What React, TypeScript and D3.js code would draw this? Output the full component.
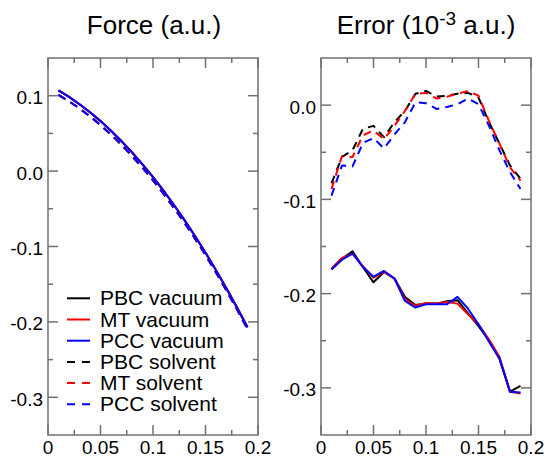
import React from "react";
import * as d3 from "d3";

const xValues = [0.01, 0.02, 0.03, 0.04, 0.05, 0.06, 0.07, 0.08, 0.09, 0.1, 0.11, 0.12, 0.13, 0.14, 0.15, 0.16, 0.17, 0.18, 0.19];

// Force (a.u.)
const forceVacuum = [0.107, 0.0984, 0.0887, 0.078, 0.0663, 0.0535, 0.0397, 0.0248, 0.0089, -0.008, -0.026, -0.045, -0.065, -0.0861, -0.1082, -0.1314, -0.1556, -0.1808, -0.2071];
const forceSolvent = [0.101, 0.0926, 0.0831, 0.0726, 0.0611, 0.0485, 0.0349, 0.0202, 0.0045, -0.0122, -0.03, -0.0488, -0.0686, -0.0895, -0.1114, -0.1344, -0.1584, -0.1834, -0.2095];

// Error (1e-3 a.u.)
const errPBCvac = [-0.1735, -0.163, -0.155, -0.172, -0.188, -0.177, -0.184, -0.2035, -0.212, -0.2106, -0.2106, -0.208, -0.207, -0.221, -0.2346, -0.2495, -0.269, -0.304, -0.298];
const errMTvac = [-0.1735, -0.162, -0.1576, -0.171, -0.183, -0.177, -0.184, -0.206, -0.213, -0.21, -0.2106, -0.209, -0.2106, -0.222, -0.2325, -0.2488, -0.267, -0.304, -0.306];
const errPCCvac = [-0.1745, -0.164, -0.1576, -0.172, -0.182, -0.176, -0.184, -0.2078, -0.2148, -0.2113, -0.2113, -0.2113, -0.2035, -0.216, -0.2325, -0.251, -0.269, -0.304, -0.305];
const errPBCsol = [-0.083, -0.055, -0.048, -0.025, -0.022, -0.034, -0.018, -0.006, 0.012, 0.015, 0.009, 0.01, 0.012, 0.013, 0.008, -0.018, -0.041, -0.064, -0.078];
const errMTsol = [-0.089, -0.054, -0.055, -0.032, -0.027, -0.036, -0.022, -0.006, 0.012, 0.013, 0.007, 0.009, 0.012, 0.015, 0.01, -0.017, -0.041, -0.066, -0.08];
const errPCCsol = [-0.096, -0.064, -0.065, -0.04, -0.035, -0.046, -0.031, -0.018, 0.003, 0.002, -0.004, -0.002, 0.001, 0.007, 0.001, -0.022, -0.048, -0.071, -0.089];

const xTicks = [0, 0.05, 0.1, 0.15, 0.2];
const xTickLabels = ["0", "0.05", "0.1", "0.15", "0.2"];
const xMinorTicks = [0.025, 0.075, 0.125, 0.175];
const leftYTicks = [-0.3, -0.2, -0.1, 0.0, 0.1];
const leftYTickLabels = ["-0.3", "-0.2", "-0.1", "0.0", "0.1"];
const leftYMinor = [-0.25, -0.15, -0.05, 0.05];
const rightYTicks = [-0.3, -0.2, -0.1, 0.0];
const rightYTickLabels = ["-0.3", "-0.2", "-0.1", "0.0"];
const rightYMinor = [-0.25, -0.15, -0.05];

const legendNames = ["PBC vacuum", "MT vacuum", "PCC vacuum", "PBC solvent", "MT solvent", "PCC solvent"];
const legendColors = ["#000000", "#ff0000", "#0000ff", "#000000", "#ff0000", "#0000ff"];
const legendDashed = [false, false, false, true, true, true];

const FONT = "'Liberation Sans', Arial, Helvetica, sans-serif";
const AXIS = "#707070";
const DASH = "8,6";

type PanelProps = {
  x0: number; x1: number; y0: number; y1: number;
  yDomain: [number, number];
  yTicks: number[]; yLabels: string[]; yMinor: number[];
  series: { values: number[]; color: string; dashed: boolean }[];
};

function Panel({ x0, x1, y0, y1, yDomain, yTicks, yLabels, yMinor, series }: PanelProps) {
  const xs = d3.scaleLinear().domain([0, 0.2]).range([x0, x1]);
  const ys = d3.scaleLinear().domain(yDomain).range([y1, y0]);
  const line = d3.line<number>().x((_, i) => xs(xValues[i])).y((d) => ys(d));
  const major = 10;
  const minor = 5;
  return (
    <g>
      {series.map((s, k) => (
        <path key={k} d={line(s.values) || ""} fill="none" stroke={s.color} strokeWidth={2}
          strokeDasharray={s.dashed ? DASH : undefined} strokeLinejoin="round" />
      ))}
      <rect x={x0} y={y0} width={x1 - x0} height={y1 - y0} fill="none" stroke={AXIS} strokeWidth={1.5} />
      {xTicks.map((t, i) => (
        <g key={"xt" + i}>
          <line x1={xs(t)} x2={xs(t)} y1={y1} y2={y1 - major} stroke={AXIS} strokeWidth={1.5} />
          <line x1={xs(t)} x2={xs(t)} y1={y0} y2={y0 + major} stroke={AXIS} strokeWidth={1.5} />
          <text x={xs(t)} y={y1 + 18.5} textAnchor="middle" fontSize={19} fontFamily={FONT} fill="#000">{xTickLabels[i]}</text>
        </g>
      ))}
      {xMinorTicks.map((t, i) => (
        <g key={"xm" + i}>
          <line x1={xs(t)} x2={xs(t)} y1={y1} y2={y1 - minor} stroke={AXIS} strokeWidth={1.5} />
          <line x1={xs(t)} x2={xs(t)} y1={y0} y2={y0 + minor} stroke={AXIS} strokeWidth={1.5} />
        </g>
      ))}
      {yTicks.map((t, i) => (
        <g key={"yt" + i}>
          <line x1={x0} x2={x0 + major} y1={ys(t)} y2={ys(t)} stroke={AXIS} strokeWidth={1.5} />
          <line x1={x1} x2={x1 - major} y1={ys(t)} y2={ys(t)} stroke={AXIS} strokeWidth={1.5} />
          <text x={x0 - 5} y={ys(t) + 8.5} textAnchor="end" fontSize={19} fontFamily={FONT} fill="#000">{yLabels[i]}</text>
        </g>
      ))}
      {yMinor.map((t, i) => (
        <g key={"ym" + i}>
          <line x1={x0} x2={x0 + minor} y1={ys(t)} y2={ys(t)} stroke={AXIS} strokeWidth={1.5} />
          <line x1={x1} x2={x1 - minor} y1={ys(t)} y2={ys(t)} stroke={AXIS} strokeWidth={1.5} />
        </g>
      ))}
    </g>
  );
}

export default function App() {
  const leftSeries = [
    { values: forceVacuum, color: legendColors[0], dashed: false },
    { values: forceVacuum, color: legendColors[1], dashed: false },
    { values: forceVacuum, color: legendColors[2], dashed: false },
    { values: forceSolvent, color: legendColors[3], dashed: true },
    { values: forceSolvent, color: legendColors[4], dashed: true },
    { values: forceSolvent, color: legendColors[5], dashed: true },
  ];
  const rightSeries = [
    { values: errPBCvac, color: legendColors[0], dashed: false },
    { values: errMTvac, color: legendColors[1], dashed: false },
    { values: errPCCvac, color: legendColors[2], dashed: false },
    { values: errPBCsol, color: legendColors[3], dashed: true },
    { values: errMTsol, color: legendColors[4], dashed: true },
    { values: errPCCsol, color: legendColors[5], dashed: true },
  ];
  const legendY = d3.scaleLinear().domain([0, 5]).range([298.3, 404.3]);
  return (
    <svg width={549} height={457} style={{ position: "absolute", left: 0, top: 0, background: "#fff" }}>
      <rect width={549} height={457} fill="#fff" />
      <Panel x0={48} x1={258} y0={58} y1={435} yDomain={[-0.35, 0.15]}
        yTicks={leftYTicks} yLabels={leftYTickLabels} yMinor={leftYMinor} series={leftSeries} />
      <Panel x0={321} x1={531} y0={58} y1={435} yDomain={[-0.35, 0.05]}
        yTicks={rightYTicks} yLabels={rightYTickLabels} yMinor={rightYMinor} series={rightSeries} />
      <text x={154} y={33.5} textAnchor="middle" fontSize={26} fontFamily={FONT} fill="#000">Force (a.u.)</text>
      <text x={426} y={33.5} textAnchor="middle" fontSize={26} fontFamily={FONT} fill="#000">
        Error (10<tspan fontSize={19} dy={-9}>-3</tspan><tspan dy={9}> a.u.)</tspan>
      </text>
      {legendNames.map((n, i) => (
        <g key={"lg" + i}>
          <line x1={67} x2={90} y1={legendY(i)} y2={legendY(i)} stroke={legendColors[i]} strokeWidth={2}
            strokeDasharray={legendDashed[i] ? "8,7" : undefined} />
          <text x={100} y={legendY(i) + 7} fontSize={21} fontFamily={FONT} fill="#000">{n}</text>
        </g>
      ))}
    </svg>
  );
}
